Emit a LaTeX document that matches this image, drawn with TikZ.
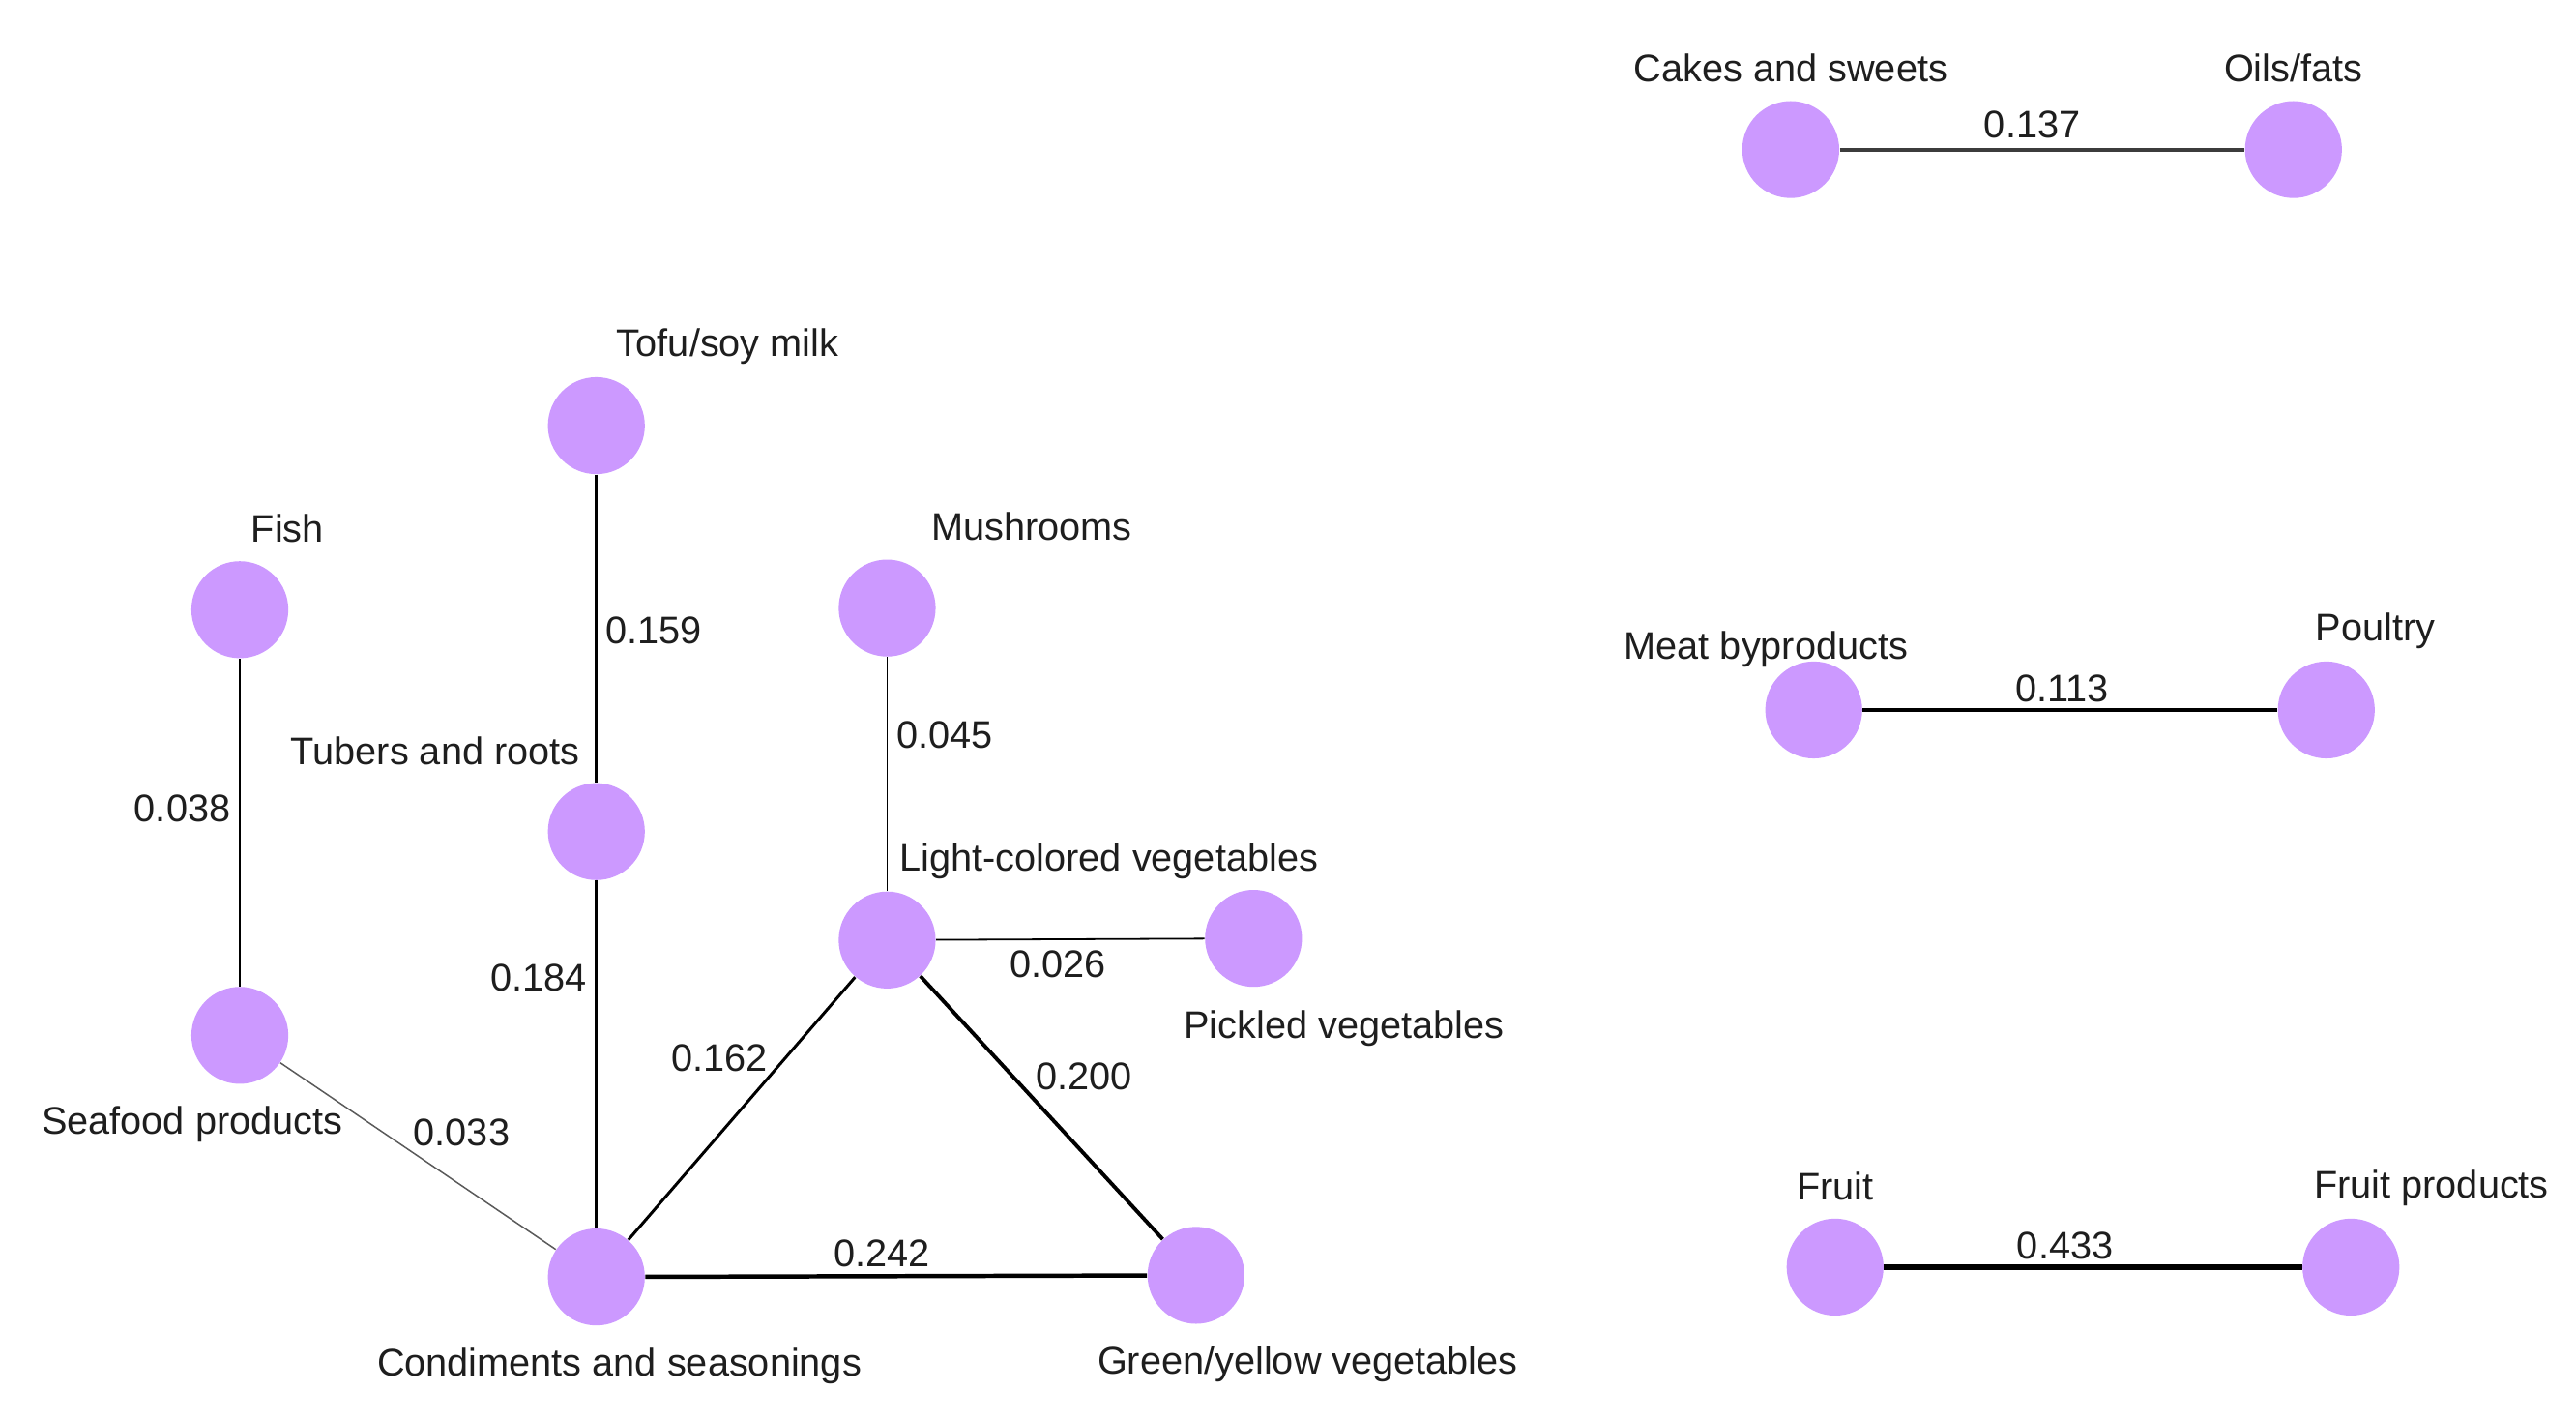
\documentclass[tikz,border=0pt]{standalone}
\usepackage{fontspec}
\setmainfont{Liberation Sans}
\definecolor{nodefill}{RGB}{204,153,255}
\definecolor{txt}{RGB}{30,30,30}
\begin{document}
\begin{tikzpicture}[x=0.02cm,y=-0.02cm,
  food/.style={circle,fill=nodefill,draw=none,minimum size=1.18cm,inner sep=0pt},
  lbl/.style={anchor=base,inner sep=0pt,text=txt,font=\fontsize{13.3}{15}\selectfont},
  edge/.style={draw=black,line cap=butt}]
\useasboundingbox[fill=white] (0,0) rectangle (1568,864);
% nodes
\node[food] (cake) at (1090,91) {};
\node[food] (oil) at (1396,91) {};
\node[food] (tofu) at (363,259) {};
\node[food] (fish) at (146,371) {};
\node[food] (mush) at (540,370) {};
\node[food] (meat) at (1104,432) {};
\node[food] (poul) at (1416,432) {};
\node[food] (tub) at (363,506) {};
\node[food] (light) at (540,572) {};
\node[food] (pick) at (763,571) {};
\node[food] (sea) at (146,630) {};
\node[food] (cond) at (363,777) {};
\node[food] (green) at (728,776) {};
\node[food] (fruit) at (1117,771) {};
\node[food] (fprod) at (1431,771) {};
% edges
\draw[edge,line width=1.3pt,draw={rgb,255:red,60;green,60;blue,60}] (cake) -- (oil);
\draw[edge,line width=1.0pt] (tofu) -- (tub);
\draw[edge,line width=0.6pt] (fish) -- (sea);
\draw[edge,line width=0.6pt] (mush) -- (light);
\draw[edge,line width=1.2pt] (meat) -- (poul);
\draw[edge,line width=1.0pt] (tub) -- (cond);
\draw[edge,line width=0.6pt] (light) -- (pick);
\draw[edge,line width=1.0pt] (cond) -- (light);
\draw[edge,line width=1.3pt] (light) -- (green);
\draw[edge,line width=0.5pt,draw={rgb,255:red,90;green,90;blue,90}] (sea) -- (cond);
\draw[edge,line width=1.5pt] (cond) -- (green);
\draw[edge,line width=1.8pt] (fruit) -- (fprod);
% node labels
\node[lbl] (lcake) at (1090,50) {Cakes and sweets};
\node[lbl] (loil) at (1396,50) {Oils/fats};
\node[lbl] (ltofu) at (443,217) {Tofu/soy milk};
\node[lbl] (lfish) at (175,330) {Fish};
\node[lbl] (lmush) at (628,329) {Mushrooms};
\node[lbl] (lmeat) at (1075,401) {Meat byproducts};
\node[lbl] (lpoul) at (1446,390) {Poultry};
\node[lbl] (ltub) at (265,465) {Tubers and roots};
\node[lbl] (llight) at (675,530) {Light-colored vegetables};
\node[lbl] (lpick) at (818,632) {Pickled vegetables};
\node[lbl] (lsea) at (117,690) {Seafood products};
\node[lbl] (lcond) at (377,837) {Condiments and seasonings};
\node[lbl] (lgreen) at (796,836) {Green/yellow vegetables};
\node[lbl] (lfruit) at (1117,730) {Fruit};
\node[lbl] (lfprod) at (1480,729) {Fruit products};
% edge labels
\node[lbl] (e1) at (1237,84) {0.137};
\node[lbl] (e2) at (398,392) {0.159};
\node[lbl] (e3) at (111,500) {0.038};
\node[lbl] (e4) at (575,455) {0.045};
\node[lbl] (e5) at (1255,427) {0.113};
\node[lbl] (e6) at (328,603) {0.184};
\node[lbl] (e7) at (644,595) {0.026};
\node[lbl] (e8) at (438,652) {0.162};
\node[lbl] (e9) at (660,663) {0.200};
\node[lbl] (e10) at (281,697) {0.033};
\node[lbl] (e11) at (537,771) {0.242};
\node[lbl] (e12) at (1257,766) {0.433};
\end{tikzpicture}
\end{document}
